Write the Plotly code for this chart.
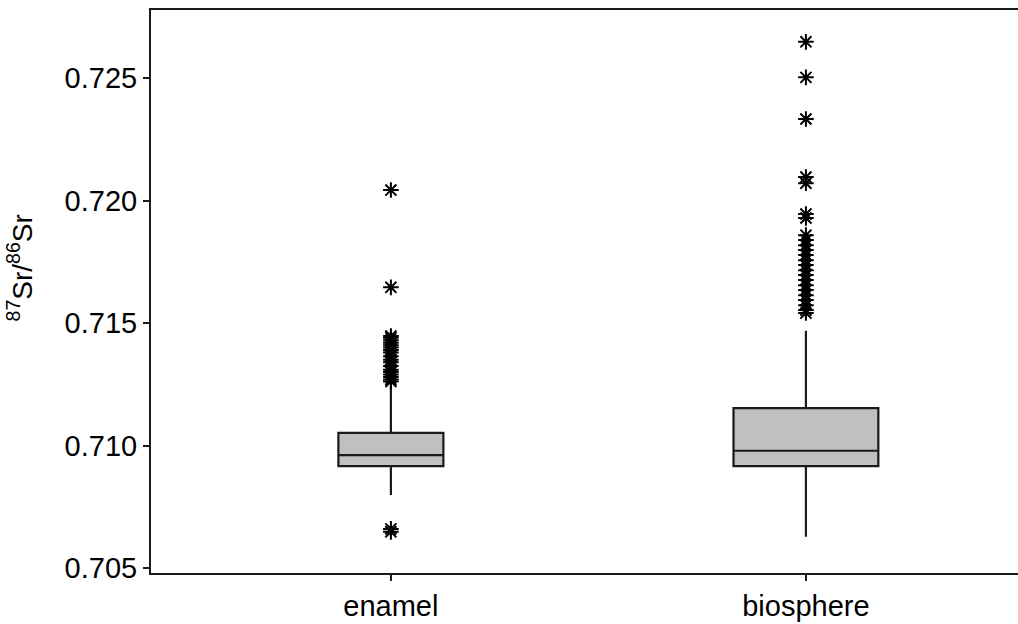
import plotly.graph_objects as go

categories = ["enamel", "biosphere"]
q1 = [0.70916, 0.70916]
median = [0.70961, 0.70979]
q3 = [0.71052, 0.71153]
lower_whisker = [0.70798, 0.70628]
upper_whisker = [0.71240, 0.71469]
box_widths = [0.253, 0.349]

enamel_outliers = [0.72043, 0.71646,
                   0.71447, 0.71440, 0.71430, 0.71420, 0.71410, 0.71400, 0.71390,
                   0.71380, 0.71365, 0.71350, 0.71340, 0.71325, 0.71310, 0.71300,
                   0.71290, 0.71280, 0.71270, 0.71262,
                   0.70660, 0.70648]
biosphere_outliers = [0.72648, 0.72503, 0.72333, 0.72096, 0.72071, 0.71945, 0.71929,
                      0.71859, 0.71839, 0.71818, 0.71798, 0.71778, 0.71757, 0.71737,
                      0.71716, 0.71696, 0.71676, 0.71655, 0.71635, 0.71614, 0.71594,
                      0.71573, 0.71553, 0.71541]

y_ticks = [0.705, 0.710, 0.715, 0.720, 0.725]
y_tick_labels = ["0.705", "0.710", "0.715", "0.720", "0.725"]

FONT = "Liberation Sans, Arial, Helvetica, sans-serif"

fig = go.Figure()
for i, cat in enumerate(categories):
    fig.add_trace(go.Box(
        x=[cat], q1=[q1[i]], median=[median[i]], q3=[q3[i]],
        lowerfence=[lower_whisker[i]], upperfence=[upper_whisker[i]],
        width=box_widths[i], whiskerwidth=0, boxpoints=False,
        fillcolor="#c0c0c0", line=dict(color="#1a1a1a", width=2.2),
        showlegend=False, hoverinfo="skip",
    ))

outlier_sets = [enamel_outliers, biosphere_outliers]
for i, cat in enumerate(categories):
    fig.add_trace(go.Scatter(
        x=[cat] * len(outlier_sets[i]), y=outlier_sets[i], mode="markers",
        marker=dict(symbol="asterisk-open", size=13, color="black",
                    line=dict(color="black", width=2)),
        showlegend=False,
    ))

fig.update_layout(
    width=1018, height=624,
    margin=dict(l=151, r=0, t=10, b=51, autoexpand=False),
    paper_bgcolor="white", plot_bgcolor="white",
    font=dict(family=FONT, color="black"),
    xaxis=dict(
        type="category", categoryorder="array", categoryarray=categories,
        range=[-0.578, 1.511], showline=True, linecolor="#1a1a1a", linewidth=2,
        mirror=True, ticks="outside", ticklen=6, tickwidth=2, tickcolor="#1a1a1a",
        showgrid=False, zeroline=False, tickfont=dict(size=29, family=FONT, color="black"),
    ),
    yaxis=dict(
        range=[0.7048, 0.72778], tickvals=y_ticks, ticktext=y_tick_labels,
        showline=True, linecolor="#1a1a1a", linewidth=2, mirror=False,
        ticks="outside", ticklen=6, tickwidth=2, tickcolor="#1a1a1a",
        showgrid=False, zeroline=False, tickfont=dict(size=29, family=FONT, color="black"),
    ),
    annotations=[dict(
        text="<sup>87</sup>Sr/<sup>86</sup>Sr", textangle=-90,
        xref="paper", yref="paper", x=0, y=0.5, xshift=-131, yshift=23,
        xanchor="center", yanchor="middle", showarrow=False,
        font=dict(size=28, family=FONT, color="black"),
    )],
)

fig.write_html("out.html", config={"displayModeBar": False},
               post_script="document.body.style.margin='0';document.body.style.overflow='hidden';")
